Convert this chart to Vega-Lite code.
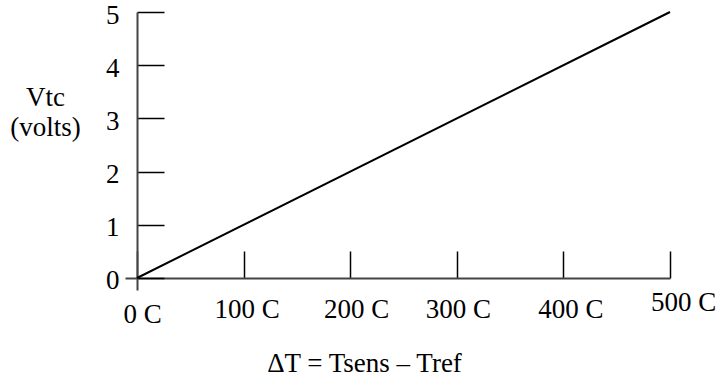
{
  "$schema": "https://vega.github.io/schema/vega-lite/v6.json",
  "width": 545,
  "height": 278,
  "autosize": {"type": "none"},
  "padding": {"left": 125, "top": 12, "right": 47, "bottom": 87},
  "background": "white",
  "config": {
    "view": {"stroke": null},
    "font": "Liberation Serif",
    "axis": {
      "grid": false,
      "domainColor": "#444444",
      "domainWidth": 2,
      "tickColor": "#000000",
      "tickWidth": 1.5,
      "labelFont": "Liberation Serif",
      "labelFontSize": 27,
      "labelColor": "#000000",
      "titleFont": "Liberation Serif",
      "titleFontSize": 27,
      "titleFontWeight": "normal",
      "titleColor": "#000000"
    }
  },
  "data": {"values": [
    {"dT": 0, "V": 0},
    {"dT": 500, "V": 5}
  ]},
  "mark": {"type": "line", "color": "#000000", "strokeWidth": 2, "clip": false},
  "encoding": {
    "x": {
      "field": "dT", "type": "quantitative",
      "scale": {"domain": [-11.26, 500], "nice": false, "zero": false},
      "axis": {
        "values": [0, 100, 200, 300, 400, 500],
        "offset": -12,
        "tickSize": -27,
        "labelPadding": {"condition": [
          {"test": "datum.value == 0", "value": 50},
          {"test": "datum.value == 500", "value": 38}
        ], "value": 45},
        "labelOffset": {"condition": [
          {"test": "datum.value == 0", "value": 5},
          {"test": "datum.value == 100", "value": 3},
          {"test": "datum.value == 200", "value": 6},
          {"test": "datum.value == 300", "value": 1},
          {"test": "datum.value == 400", "value": 7},
          {"test": "datum.value == 500", "value": 13}
        ], "value": 0},
        "labelExpr": "datum.value + ' C'",
        "labelFlush": false,
        "labelOverlap": false,
        "title": "ΔT = Tsens – Tref",
        "titleX": 239,
        "titleY": 93,
        "titleAnchor": "start",
        "titleAlign": "center",
        "titleBaseline": "alphabetic"
      }
    },
    "y": {
      "field": "V", "type": "quantitative",
      "scale": {"domain": [-0.2256, 5], "nice": false, "zero": false},
      "axis": {
        "values": [0, 1, 2, 3, 4, 5],
        "offset": -12,
        "tickSize": -27,
        "labelPadding": 45,
        "labelOffset": 3,
        "labelFlush": false,
        "labelOverlap": false,
        "title": ["Vtc", "(volts)"],
        "titleAngle": 0,
        "titleX": -92,
        "titleY": 85,
        "titleAlign": "center",
        "titleBaseline": "middle",
        "titleLineHeight": 30
      }
    }
  }
}
